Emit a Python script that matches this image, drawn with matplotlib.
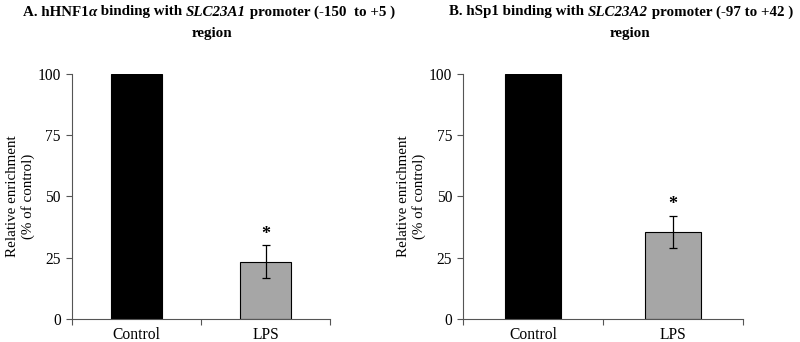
import matplotlib.pyplot as plt
import numpy as np

plt.rcParams['font.family'] = ['Liberation Serif', 'DejaVu Serif']

# data
groups = ['Control', 'LPS']
hnf1_vals = [100, 23.4]
hnf1_err = [0, 6.6]
sp1_vals = [100, 35.5]
sp1_err = [0, 6.5]
yticks = [0, 25, 50, 75, 100]
bar_colors = ['#000000', '#a6a6a6']

# title pieces: (text, style)
title_a = [('A. hHNF1', 'normal'), ('α', 'italic'), (' binding with ', 'normal'),
           ('SLC23A1', 'italic'), (' promoter (-150  to +5 )', 'normal')]
title_b = [('B. hSp1 binding with ', 'normal'), ('SLC23A2', 'italic'),
           (' promoter (-97 to +42 )', 'normal')]

W, H = 800, 342
fig = plt.figure(figsize=(8, 3.42), dpi=100)
ax1 = fig.add_axes([0.09, 0.0673, 0.3225, 0.7164])
ax2 = fig.add_axes([0.579, 0.0673, 0.35, 0.7164])

spine_col = '#555555'
fs = 10.8


def draw_panel(ax, vals, errs):
    x = np.arange(len(groups))
    ax.bar(x, vals, width=0.4, color=bar_colors, edgecolor='black', linewidth=0.8, zorder=2)
    ax.errorbar(x[1:], vals[1:], yerr=errs[1:], fmt='none', ecolor='black',
                elinewidth=0.9, capsize=3, capthick=0.9, zorder=3)
    ax.annotate('*', xy=(x[1], vals[1] + errs[1]), xytext=(0, 2), textcoords='offset points',
                ha='center', va='bottom', fontsize=13, fontweight='bold')
    ax.set_xlim(-0.5, 1.5)
    ax.set_ylim(0, 100)
    ax.set_yticks(yticks)
    ax.tick_params(axis='y', direction='out', length=4, color=spine_col, labelsize=fs + 0.4, pad=4)
    ax.set_xticks([-0.5, 0.5, 1.5])
    ax.set_xticklabels([])
    ax.tick_params(axis='x', which='major', direction='out', length=4, color=spine_col)
    ax.set_xticks(x, minor=True)
    ax.set_xticklabels(groups, minor=True)
    ax.tick_params(axis='x', which='minor', length=0, labelsize=fs + 0.4, pad=6)
    ax.spines['top'].set_visible(False)
    ax.spines['right'].set_visible(False)
    ax.spines['left'].set_color(spine_col)
    ax.spines['bottom'].set_color(spine_col)
    ax.set_ylabel('Relative enrichment\n(% of control)', fontsize=fs, labelpad=2, linespacing=1.2)


def draw_title(pieces, cx, cy):
    # lay the mixed-style pieces side by side, centred on cx (pixels)
    r = fig.canvas.get_renderer()
    texts = []
    for s, st in pieces:
        t = fig.text(0, cy / H, s, fontsize=fs, fontweight='bold', style=st, va='center', ha='left')
        texts.append(t)
    widths = [t.get_window_extent(renderer=r).width for t in texts]
    xpos = cx - sum(widths) / 2
    for t, w in zip(texts, widths):
        t.set_x(xpos / W)
        xpos += w


draw_panel(ax1, hnf1_vals, hnf1_err)
draw_panel(ax2, sp1_vals, sp1_err)

draw_title(title_a, 209, H - 12)
draw_title(title_b, 621, H - 12)
fig.text(212 / W, 1 - 33 / H, 'region', ha='center', va='center', fontsize=fs, fontweight='bold')
fig.text(630 / W, 1 - 33 / H, 'region', ha='center', va='center', fontsize=fs, fontweight='bold')

fig.savefig('out.png', dpi=100)
